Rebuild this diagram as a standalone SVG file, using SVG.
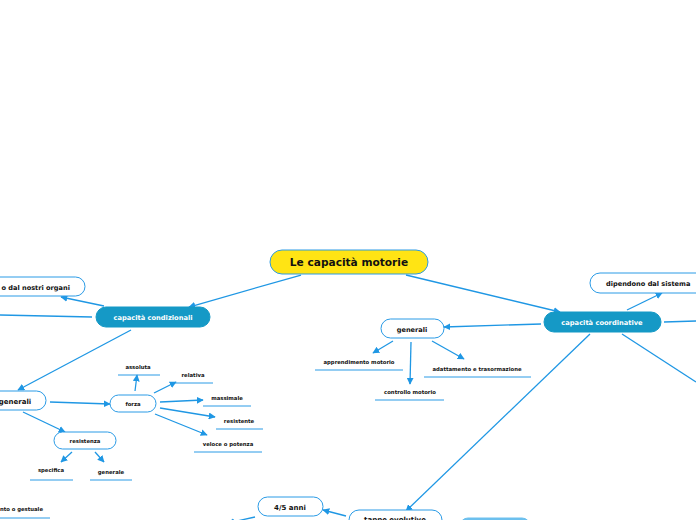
<svg xmlns="http://www.w3.org/2000/svg" width="696" height="520" viewBox="0 0 696 520">
<defs>
<marker id="ah" viewBox="0 0 10 10" refX="9" refY="5" markerWidth="7" markerHeight="7" markerUnits="userSpaceOnUse" orient="auto">
<path d="M0,0 L10,5 L0,10 Z" fill="#1f97e4"/>
</marker>
<style>
.c{stroke:#1f97e4;stroke-width:1.3;fill:none}
.a{marker-end:url(#ah)}
.w{fill:#fff;stroke:#2a9be6;stroke-width:1}
.d{fill:#1599c6;stroke:#1599c6}
.t{font-family:"DejaVu Sans",Verdana,sans-serif;font-weight:bold;fill:#111;text-anchor:middle}
.tw{font-family:"DejaVu Sans",Verdana,sans-serif;font-weight:bold;fill:#fff;text-anchor:middle}
.u{stroke:#2a9be6;stroke-width:1}
</style>
</defs>
<rect width="696" height="520" fill="#fff"/>
<g id="connectors">
<line class="c a" x1="301" y1="275" x2="189" y2="307"/>
<line class="c a" x1="406" y1="275" x2="560" y2="312"/>
<line class="c a" x1="104" y1="306" x2="61" y2="297"/>
<line class="c" x1="92" y1="317" x2="0" y2="315"/>
<line class="c a" x1="131" y1="330" x2="18" y2="390"/>
<line class="c a" x1="50" y1="402" x2="110" y2="404"/>
<line class="c a" x1="23" y1="412" x2="65" y2="432"/>
<line class="c a" x1="135" y1="391" x2="137" y2="375"/>
<line class="c a" x1="154" y1="393" x2="176" y2="382"/>
<line class="c a" x1="160" y1="402" x2="203" y2="400"/>
<line class="c a" x1="160" y1="408" x2="215" y2="417"/>
<line class="c a" x1="155" y1="414" x2="207" y2="435"/>
<line class="c a" x1="72" y1="452" x2="61" y2="462"/>
<line class="c a" x1="95" y1="452" x2="104" y2="462"/>
<line class="c a" x1="541" y1="324" x2="444" y2="327"/>
<line class="c a" x1="393" y1="341" x2="373" y2="353"/>
<line class="c a" x1="411" y1="342" x2="410" y2="384"/>
<line class="c a" x1="432" y1="341" x2="464" y2="359"/>
<line class="c a" x1="627" y1="310" x2="662" y2="293"/>
<line class="c" x1="664" y1="322" x2="696" y2="321"/>
<line class="c" x1="622" y1="334" x2="696" y2="382"/>
<line class="c a" x1="590" y1="334" x2="406" y2="511"/>
<line class="c a" x1="346" y1="516" x2="323" y2="510"/>
<line class="c a" x1="255" y1="517" x2="228" y2="523"/>
</g>
<g id="root">
<rect x="270" y="250" width="158" height="24" rx="12" fill="#ffe414" stroke="#2a9be6"/>
<text class="t" x="349" y="266" font-size="10.6">Le capacità motorie</text>
</g>
<g id="cap-cond">
<rect class="d" x="96" y="307" width="114" height="20" rx="10"/>
<text class="tw" x="153" y="320" font-size="6.7">capacità condizionali</text>
</g>
<g id="cap-coord">
<rect class="d" x="544" y="312" width="117" height="20" rx="10"/>
<text class="tw" x="602" y="325" font-size="6.7">capacità coordinative</text>
</g>
<g id="organi">
<rect class="w" x="-40" y="277" width="125" height="19" rx="9.5"/>
<text class="t" x="70" y="290" font-size="6.6" style="text-anchor:end">o dal nostri organi</text>
</g>
<g id="sistema">
<rect class="w" x="590" y="273" width="130" height="20" rx="10"/>
<text class="t" x="606" y="286" font-size="6.6" style="text-anchor:start">dipendono dal sistema</text>
</g>
<g id="generali-l">
<rect class="w" x="-30" y="391" width="76" height="19" rx="9.5"/>
<text class="t" x="15" y="403.5" font-size="7">generali</text>
</g>
<g id="forza">
<rect class="w" x="110" y="395" width="46" height="17" rx="8.5"/>
<text class="t" x="133" y="406" font-size="5.3">forza</text>
</g>
<g id="resistenza">
<rect class="w" x="54" y="432" width="62" height="17" rx="8.5"/>
<text class="t" x="85" y="443" font-size="5.3">resistenza</text>
</g>
<g id="assoluta"><text class="t" x="138" y="369" font-size="5.3">assoluta</text><line class="u" x1="118" y1="375" x2="160" y2="375"/></g>
<g id="relativa"><text class="t" x="193" y="377" font-size="5.3">relativa</text><line class="u" x1="175" y1="383" x2="213" y2="383"/></g>
<g id="massimale"><text class="t" x="227" y="400" font-size="5.3">massimale</text><line class="u" x1="203" y1="406" x2="251" y2="406"/></g>
<g id="resistente"><text class="t" x="239" y="423" font-size="5.3">resistente</text><line class="u" x1="216" y1="429" x2="263" y2="429"/></g>
<g id="veloce"><text class="t" x="228" y="446" font-size="5.3">veloce o potenza</text><line class="u" x1="194" y1="452" x2="262" y2="452"/></g>
<g id="specifica"><text class="t" x="51" y="472" font-size="5.3">specifica</text><line class="u" x1="30" y1="480" x2="73" y2="480"/></g>
<g id="generale"><text class="t" x="111" y="474" font-size="5.3">generale</text><line class="u" x1="90" y1="480" x2="132" y2="480"/></g>
<g id="gestuale"><text class="t" x="43" y="511" font-size="5.3" style="text-anchor:end">nto o gestuale</text><line class="u" x1="0" y1="518" x2="50" y2="518"/></g>
<g id="generali-r">
<rect class="w" x="381" y="319" width="63" height="19" rx="9.5"/>
<text class="t" x="412" y="331.5" font-size="6.6">generali</text>
</g>
<g id="apprendimento"><text class="t" x="359" y="364" font-size="5.3">apprendimento motorio</text><line class="u" x1="315" y1="370" x2="403" y2="370"/></g>
<g id="adattamento"><text class="t" x="477" y="371" font-size="5.3">adattamento e trasormazione</text><line class="u" x1="424" y1="377" x2="531" y2="377"/></g>
<g id="controllo"><text class="t" x="410" y="394" font-size="5.3">controllo motorio</text><line class="u" x1="375" y1="400" x2="444" y2="400"/></g>
<g id="tappe">
<rect class="w" x="349" y="510" width="93" height="24" rx="10"/>
<text class="t" x="395" y="522" font-size="7">tappe evolutive</text>
</g>
<g id="box-r">
<rect x="460" y="518" width="70" height="20" rx="8" fill="#6cc0ee" stroke="#6cc0ee"/>
</g>
<g id="anni">
<rect class="w" x="258" y="497" width="65" height="19" rx="9.5"/>
<text class="t" x="290" y="509.5" font-size="7">4/5 anni</text>
</g>
</svg>
